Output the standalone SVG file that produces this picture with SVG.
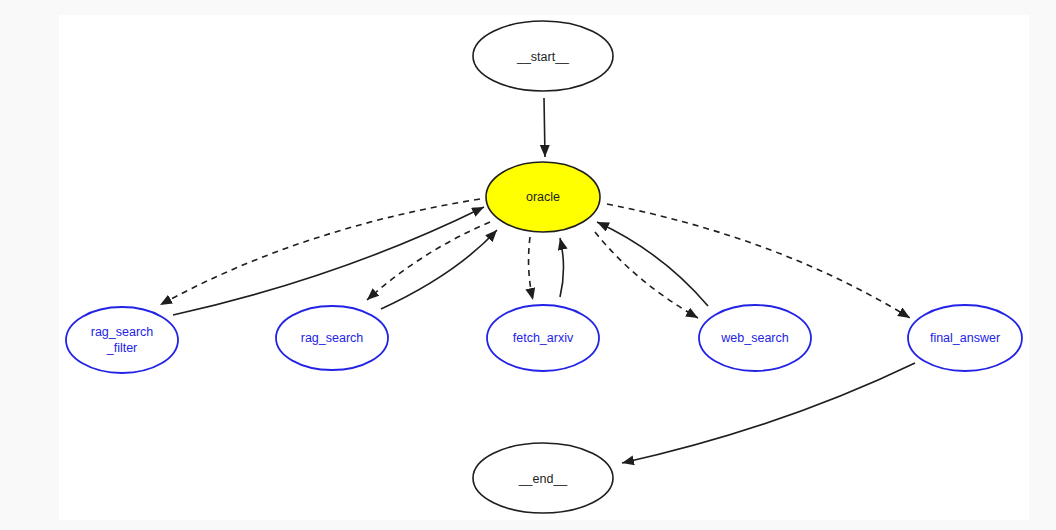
<svg xmlns="http://www.w3.org/2000/svg" width="1056" height="530" viewBox="0 0 1056 530">
<style>
.bg{fill:#f9f9f9}
.panel{fill:#ffffff}
.nd{fill:#ffffff;stroke:#1e1e1e;stroke-width:1.6}
.or{fill:#ffff00;stroke:#1e1e1e;stroke-width:1.6}
.bl{fill:#ffffff;stroke:#2323e6;stroke-width:1.8}
.t{font-family:"Liberation Sans",Arial,sans-serif;font-size:12.5px;text-anchor:middle;dominant-baseline:central;fill:#1e1e1e}
.tb{font-family:"Liberation Sans",Arial,sans-serif;font-size:12.5px;text-anchor:middle;dominant-baseline:central;fill:#2323e6}
.e{fill:none;stroke:#1e1e1e;stroke-width:1.6}
.d{stroke-dasharray:6 5}
</style>
<defs>
<marker id="ah" markerUnits="userSpaceOnUse" markerWidth="14" markerHeight="12" refX="12" refY="5" orient="auto">
<path d="M0,0 L12,5 L0,10 Z" fill="#1e1e1e"/>
</marker>
</defs>
<rect class="bg" x="0" y="0" width="1056" height="530"/>
<rect class="panel" x="59" y="15" width="970" height="505"/>
<g id="connectors">
<path class="e" d="M544,98 L545,157" marker-end="url(#ah)"/>
<path class="e d" d="M480,199 Q300,228 160,305" marker-end="url(#ah)"/>
<path class="e" d="M173,315 Q340,278 484,207" marker-end="url(#ah)"/>
<path class="e d" d="M490,222 Q420,252 367,300" marker-end="url(#ah)"/>
<path class="e" d="M381,309 Q455,275 497,230" marker-end="url(#ah)"/>
<path class="e d" d="M530,237 Q526,270 533,300" marker-end="url(#ah)"/>
<path class="e" d="M560,297 Q567,268 560,238" marker-end="url(#ah)"/>
<path class="e d" d="M595,232 Q635,282 698,318" marker-end="url(#ah)"/>
<path class="e" d="M708,306 Q662,252 597,222" marker-end="url(#ah)"/>
<path class="e d" d="M607,204 Q780,238 910,318" marker-end="url(#ah)"/>
<path class="e" d="M915,363 Q780,428 622,463" marker-end="url(#ah)"/>
</g>
<g id="start"><ellipse class="nd" cx="543" cy="56" rx="70" ry="35"/><text class="t" x="543" y="57">__start__</text></g>
<g id="oracle"><ellipse class="or" cx="543" cy="197" rx="57" ry="35"/><text class="t" x="543" y="197">oracle</text></g>
<g id="rag_search_filter"><ellipse class="bl" cx="122" cy="340" rx="56" ry="33"/><text class="tb" x="122" y="332">rag_search</text><text class="tb" x="122" y="348">_filter</text></g>
<g id="rag_search"><ellipse class="bl" cx="332" cy="338" rx="56" ry="32"/><text class="tb" x="332" y="338">rag_search</text></g>
<g id="fetch_arxiv"><ellipse class="bl" cx="543" cy="338" rx="56" ry="33"/><text class="tb" x="543" y="338">fetch_arxiv</text></g>
<g id="web_search"><ellipse class="bl" cx="755" cy="338" rx="56" ry="33"/><text class="tb" x="755" y="338">web_search</text></g>
<g id="final_answer"><ellipse class="bl" cx="965" cy="338" rx="57" ry="33"/><text class="tb" x="965" y="338">final_answer</text></g>
<g id="end"><ellipse class="nd" cx="543" cy="478" rx="70" ry="35"/><text class="t" x="543" y="479">__end__</text></g>
</svg>
